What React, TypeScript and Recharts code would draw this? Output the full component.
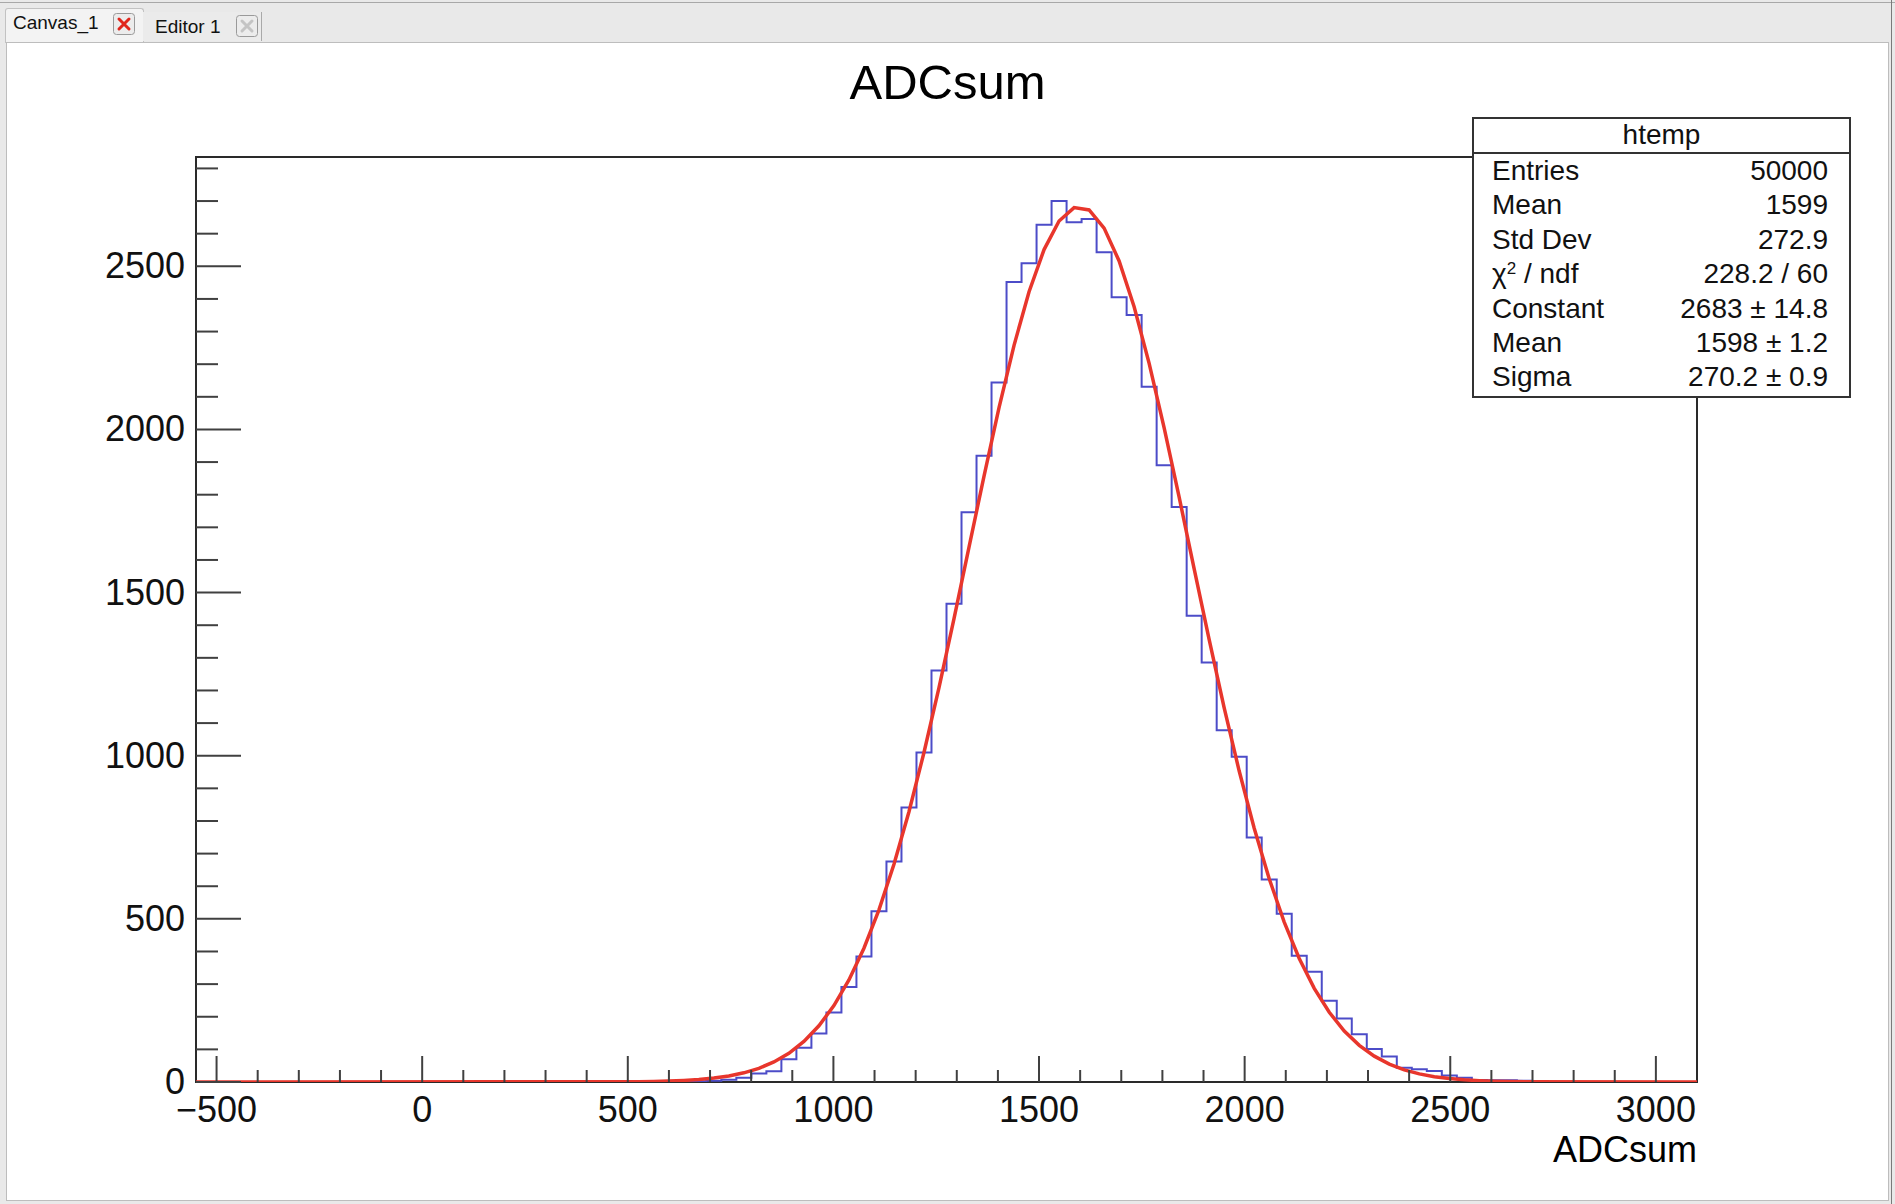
import React from "react";
import { ComposedChart, Line, XAxis, YAxis, ReferenceArea } from "recharts";

// histogram binning (ROOT htemp: 100 bins)
const X_MIN = -550;
const X_MAX = 3100;
const BIN_WIDTH = 36.5;
const N_BINS = 100;
const Y_MAX = 2835;

// counts of bins 31..88, the rest are empty
const FIRST_FILLED_BIN = 31;
const binCounts = [
  1, 1, 2, 4, 7, 13, 26, 33, 70, 105, 149, 213, 291, 385, 523, 676, 841, 1010, 1261, 1466,
  1746, 1919, 2144, 2452, 2509, 2627, 2700, 2635, 2645, 2543, 2405, 2351, 2131, 1890, 1762,
  1429, 1286, 1078, 997, 749, 621, 516, 387, 338, 249, 195, 146, 101, 78, 44, 39, 34, 20, 13,
  6, 5, 5, 4,
];

// gaus fit curve, read at bin centres 28..88
const FIT_FIRST_BIN = 28;
const fitValues = [
  0.6, 1.0, 1.8, 2.9, 4.8, 7.6, 12.0, 18.5, 28.1, 41.9, 61.4, 88.1, 124.3, 172.2, 234.1,
  312.6, 410.0, 527.8, 667.3, 828.5, 1009.9, 1208.4, 1420.4, 1639.0, 1857.2, 2066.5, 2257.8,
  2422.0, 2551.3, 2638.8, 2680.0, 2672.7, 2617.1, 2516.4, 2375.8, 2202.5, 2005.0, 1792.3,
  1572.8, 1355.5, 1147.0, 953.0, 777.5, 623.0, 490.2, 378.6, 287.1, 213.8, 156.4, 112.3, 79.2,
  54.8, 37.2, 24.9, 16.3, 10.5, 6.6, 4.1, 2.5, 1.5, 0.9,
];

const xMajorTicks = [-500, 0, 500, 1000, 1500, 2000, 2500, 3000];
const yMajorTicks = [0, 500, 1000, 1500, 2000, 2500];

const statsRows: [string, string][] = [
  ["Entries", "50000"],
  ["Mean", "1599"],
  ["Std Dev", "272.9"],
  ["chi2", "228.2 / 60"],
  ["Constant", "2683 \u00b1 14.8"],
  ["Mean", "1598 \u00b1 1.2"],
  ["Sigma", "270.2 \u00b1 0.9"],
];

const W = 1895;
const H = 1204;
const PLOT_LEFT = 196;
const PLOT_RIGHT = 1697;
const PLOT_TOP = 157;
const PLOT_BOTTOM = 1082;
const FONT = "'Liberation Sans', Arial, Helvetica, sans-serif";

const histPoints: { x: number; y: number }[] = [];
for (let k = 0; k < N_BINS; k++) {
  const i = k - FIRST_FILLED_BIN;
  histPoints.push({ x: X_MIN + k * BIN_WIDTH, y: i >= 0 && i < binCounts.length ? binCounts[i] : 0 });
}
histPoints.push({ x: X_MAX, y: 0 });

const fitPoints = [
  { x: X_MIN, y: 0 },
  ...fitValues.map((v, i) => ({ x: X_MIN + (FIT_FIRST_BIN + i + 0.5) * BIN_WIDTH, y: v })),
  { x: X_MAX, y: 0 },
];

const xTicks: number[] = [];
for (let v = -500; v < X_MAX; v += 100) xTicks.push(v);
const yTicks: number[] = [];
for (let v = 0; v < Y_MAX; v += 100) yTicks.push(v);

const fmt = (v: number) => (v < 0 ? "\u2212" + Math.abs(v) : String(v));

function XTick(props: any) {
  const { x, payload } = props;
  const v = payload.value;
  const major = xMajorTicks.includes(v);
  return (
    <g>
      <line x1={x} x2={x} y1={PLOT_BOTTOM} y2={PLOT_BOTTOM - (major ? 26 : 12)} stroke="#404040" strokeWidth={2} />
      {major && (
        <text x={x} y={PLOT_BOTTOM + 40} textAnchor="middle" fontSize={36} fontFamily={FONT} fill="#111">
          {fmt(v)}
        </text>
      )}
    </g>
  );
}

function YTick(props: any) {
  const { y, payload } = props;
  const v = payload.value;
  const major = yMajorTicks.includes(v);
  return (
    <g>
      <line x1={PLOT_LEFT} x2={PLOT_LEFT + (major ? 45 : 22)} y1={y} y2={y} stroke="#404040" strokeWidth={2} />
      {major && (
        <text x={PLOT_LEFT - 11} y={y + 12} textAnchor="end" fontSize={36} fontFamily={FONT} fill="#111">
          {v}
        </text>
      )}
    </g>
  );
}

function CloseIcon({ left, top, active }: { left: number; top: number; active: boolean }) {
  const c = active ? "#e0261c" : "#c4c4c4";
  return (
    <svg style={{ position: "absolute", left, top }} width={22} height={22}>
      <rect x={0.5} y={0.5} width={21} height={21} rx={3} fill="#ececec" stroke="#9a9a9a" />
      <path d="M6 6 L16 16 M16 6 L6 16" stroke={c} strokeWidth={3} strokeLinecap="round" />
    </svg>
  );
}

export default function App() {
  return (
    <div style={{ position: "absolute", left: 0, top: 0, width: W, height: H, background: "#e9e9e9", overflow: "hidden", fontFamily: FONT }}>
      {/* window / tab bar */}
      <div style={{ position: "absolute", left: 0, top: 2, width: W, height: 1, background: "#a8a8a8" }} />
      <div style={{ position: "absolute", left: 5, top: 8, width: 137, height: 34, background: "#f3f3f3", border: "1px solid #c2c2c2", borderBottom: "none", borderRadius: "3px 3px 0 0" }} />
      <div style={{ position: "absolute", left: 13, top: 11, fontSize: 19, lineHeight: "24px", color: "#111" }}>Canvas_1</div>
      <CloseIcon left={113} top={13} active={true} />
      <div style={{ position: "absolute", left: 143, top: 12, width: 118, height: 29, background: "#ebebeb", borderRight: "1px solid #a9a9a9" }} />
      <div style={{ position: "absolute", left: 155, top: 15, fontSize: 19, lineHeight: "24px", color: "#111" }}>Editor 1</div>
      <CloseIcon left={236} top={15} active={false} />
      <div style={{ position: "absolute", left: W - 4, top: 0, width: 1, height: H, background: "#7a7a7a" }} />

      {/* canvas */}
      <div style={{ position: "absolute", left: 6, top: 42, width: 1881, height: 1157, background: "#fff", border: "1px solid #bdbdbd" }} />

      <div style={{ position: "absolute", left: 0, top: 0 }}>
        <ComposedChart width={W} height={H} margin={{ top: PLOT_TOP, right: W - PLOT_RIGHT, bottom: 0, left: 0 }}>
          <XAxis
            type="number"
            dataKey="x"
            domain={[X_MIN, X_MAX]}
            allowDataOverflow
            ticks={xTicks}
            interval={0}
            height={H - PLOT_BOTTOM}
            tickSize={0}
            tickMargin={0}
            axisLine={false}
            tickLine={false}
            tick={(p: any) => <XTick {...p} />}
          />
          <YAxis
            type="number"
            domain={[0, Y_MAX]}
            allowDataOverflow
            ticks={yTicks}
            interval={0}
            width={PLOT_LEFT}
            tickSize={0}
            tickMargin={0}
            axisLine={false}
            tickLine={false}
            tick={(p: any) => <YTick {...p} />}
          />
          <ReferenceArea x1={X_MIN} x2={X_MAX} y1={0} y2={Y_MAX} fill="none" stroke="#2a2a2a" strokeWidth={2} />
          <Line data={histPoints} dataKey="y" type="stepAfter" stroke="#4c4cc8" strokeWidth={2} dot={false} activeDot={false} isAnimationActive={false} />
          <Line data={fitPoints} dataKey="y" type="linear" stroke="#e8362c" strokeWidth={3.5} dot={false} activeDot={false} isAnimationActive={false} />
        </ComposedChart>
      </div>

      {/* title */}
      <div style={{ position: "absolute", left: 0, width: 1895, top: 58, textAlign: "center", fontSize: 49, lineHeight: "49px", color: "#000" }}>ADCsum</div>
      {/* x axis title */}
      <div style={{ position: "absolute", right: W - PLOT_RIGHT, top: 1132, fontSize: 36, lineHeight: "36px", color: "#000" }}>ADCsum</div>

      {/* stats box */}
      <div style={{ position: "absolute", left: 1472, top: 117, width: 375, height: 277, background: "#fff", border: "2px solid #333" }} />
      <div style={{ position: "absolute", left: 1472, top: 152, width: 379, height: 2, background: "#333" }} />
      <div style={{ position: "absolute", left: 1472, top: 118, width: 379, height: 33, lineHeight: "33px", textAlign: "center", fontSize: 28, color: "#111" }}>htemp</div>
      <div style={{ position: "absolute", left: 1492, top: 154, width: 336 }}>
        {statsRows.map(([k, v], i) => (
          <div key={i} style={{ display: "flex", justifyContent: "space-between", height: 34.4, lineHeight: "34.4px", fontSize: 28, color: "#111" }}>
            <span>
              {k === "chi2" ? (
                <>
                  {"\u03c7"}
                  <sup style={{ fontSize: 17, lineHeight: 0, verticalAlign: "9px" }}>2</sup>
                  {" / ndf"}
                </>
              ) : (
                k
              )}
            </span>
            <span>{v}</span>
          </div>
        ))}
      </div>
    </div>
  );
}
